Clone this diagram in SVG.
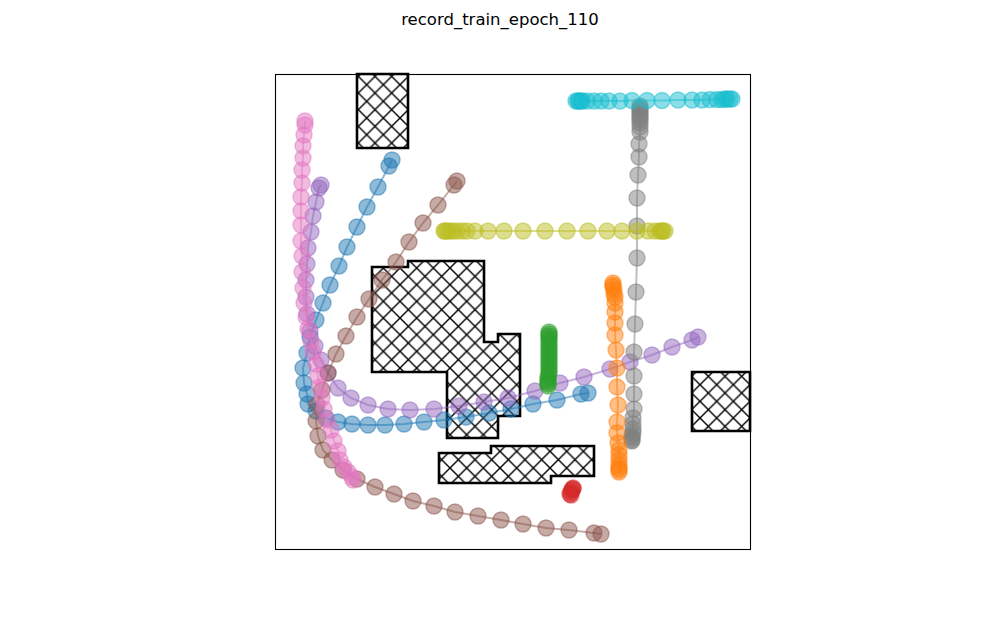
<svg xmlns="http://www.w3.org/2000/svg" xmlns:xlink="http://www.w3.org/1999/xlink" width="1000" height="618" viewBox="0 0 1000 618">
<style>
.ln{fill:none;stroke-width:2;stroke-opacity:0.5;stroke-linejoin:round}
.pt circle{r:8px;fill-opacity:0.5;stroke-opacity:0.5;stroke-width:1.4}
.obs{fill:url(#hatch);stroke:#000;stroke-width:2.6;stroke-linejoin:miter}
.blue{stroke:#1f77b4;fill:#1f77b4}.orange{stroke:#ff7f0e;fill:#ff7f0e}.green{stroke:#2ca02c;fill:#2ca02c}.red{stroke:#d62728;fill:#d62728}.purple{stroke:#9467bd;fill:#9467bd}.brown{stroke:#8c564b;fill:#8c564b}.pink{stroke:#e377c2;fill:#e377c2}.gray{stroke:#7f7f7f;fill:#7f7f7f}.olive{stroke:#bcbd22;fill:#bcbd22}.cyan{stroke:#17becf;fill:#17becf}
.ln.blue,.ln.orange,.ln.green,.ln.red,.ln.purple,.ln.brown,.ln.pink,.ln.gray,.ln.olive,.ln.cyan{fill:none}
</style>
<defs>
<pattern id="hatch" patternUnits="userSpaceOnUse" x="0" y="1.33" width="16.667" height="16.667">
<rect width="16.667" height="16.667" fill="#fff"/>
<path d="M0,0L16.667,16.667M0,16.667L16.667,0" stroke="#000" stroke-width="1.4"/>
</pattern>
</defs>
<rect width="1000" height="618" fill="#fff"/>
<text x="500" y="25" text-anchor="middle" font-family="DejaVu Sans, sans-serif" font-size="16.5">record_train_epoch_110</text>
<g id="obstacles">
<polygon class="obs" points="357,74 408,74 408,148 357,148"/>
<polygon class="obs" points="372,267 408,267 408,261 484,261 484,342 498,342 498,334 520,334 520,416 498,416 498,438 447,438 447,372 372,372"/>
<polygon class="obs" points="439,453 491,453 491,446 594,446 594,476 551,476 551,483 439,483"/>
<polygon class="obs" points="692,372 750,372 750,431 692,431"/>
</g>
<g id="traj-blue">
<polyline class="ln blue" points="392,160 389,166 378,187 367,207 357,227 347,247 339,266 330,285 323,303 316,320 310,337 307,353 303,368 304,383 307,394 308,404 316,411 326,418 338,422 352,424 368,425 385,425 404,424 424,422 444,420 466,417 489,413 511,409 533,404 557,400 581,394 588,393"/>
<g class="pt blue"><circle cx="392" cy="160"/><circle cx="389" cy="166"/><circle cx="378" cy="187"/><circle cx="367" cy="207"/><circle cx="357" cy="227"/><circle cx="347" cy="247"/><circle cx="339" cy="266"/><circle cx="330" cy="285"/><circle cx="323" cy="303"/><circle cx="316" cy="320"/><circle cx="310" cy="337"/><circle cx="307" cy="353"/><circle cx="303" cy="368"/><circle cx="304" cy="383"/><circle cx="307" cy="394"/><circle cx="308" cy="404"/><circle cx="316" cy="411"/><circle cx="326" cy="418"/><circle cx="338" cy="422"/><circle cx="352" cy="424"/><circle cx="368" cy="425"/><circle cx="385" cy="425"/><circle cx="404" cy="424"/><circle cx="424" cy="422"/><circle cx="444" cy="420"/><circle cx="466" cy="417"/><circle cx="489" cy="413"/><circle cx="511" cy="409"/><circle cx="533" cy="404"/><circle cx="557" cy="400"/><circle cx="581" cy="394"/><circle cx="588" cy="393"/></g>
</g>
<g id="traj-purple">
<polyline class="ln purple" points="321,185 319,188 316,202 313,216 311,232 308,248 307,264 306,280 306,297 307,314 310,331 315,346 321,360 328,373 338,388 351,398 368,405 388,409 410,410 434,409 459,406 484,402 508,398 535,391 560,383 584,377 610,369 630,362 652,355 672,347 692,340 698,337"/>
<g class="pt purple"><circle cx="321" cy="185"/><circle cx="319" cy="188"/><circle cx="316" cy="202"/><circle cx="313" cy="216"/><circle cx="311" cy="232"/><circle cx="308" cy="248"/><circle cx="307" cy="264"/><circle cx="306" cy="280"/><circle cx="306" cy="297"/><circle cx="307" cy="314"/><circle cx="310" cy="331"/><circle cx="315" cy="346"/><circle cx="321" cy="360"/><circle cx="328" cy="373"/><circle cx="338" cy="388"/><circle cx="351" cy="398"/><circle cx="368" cy="405"/><circle cx="388" cy="409"/><circle cx="410" cy="410"/><circle cx="434" cy="409"/><circle cx="459" cy="406"/><circle cx="484" cy="402"/><circle cx="508" cy="398"/><circle cx="535" cy="391"/><circle cx="560" cy="383"/><circle cx="584" cy="377"/><circle cx="610" cy="369"/><circle cx="630" cy="362"/><circle cx="652" cy="355"/><circle cx="672" cy="347"/><circle cx="692" cy="340"/><circle cx="698" cy="337"/></g>
</g>
<g id="traj-brown">
<polyline class="ln brown" points="457,181 454,185 438,205 423,223 409,242 396,262 382,280 369,299 357,317 346,336 336,354 328,373 322,390 317,405 316,421 318,436 323,450 332,460 343,470 357,479 375,487 394,494 413,501 434,506 455,512 478,516 501,520 523,524 546,528 569,530 594,533 601,534"/>
<g class="pt brown"><circle cx="457" cy="181"/><circle cx="454" cy="185"/><circle cx="438" cy="205"/><circle cx="423" cy="223"/><circle cx="409" cy="242"/><circle cx="396" cy="262"/><circle cx="382" cy="280"/><circle cx="369" cy="299"/><circle cx="357" cy="317"/><circle cx="346" cy="336"/><circle cx="336" cy="354"/><circle cx="328" cy="373"/><circle cx="322" cy="390"/><circle cx="317" cy="405"/><circle cx="316" cy="421"/><circle cx="318" cy="436"/><circle cx="323" cy="450"/><circle cx="332" cy="460"/><circle cx="343" cy="470"/><circle cx="357" cy="479"/><circle cx="375" cy="487"/><circle cx="394" cy="494"/><circle cx="413" cy="501"/><circle cx="434" cy="506"/><circle cx="455" cy="512"/><circle cx="478" cy="516"/><circle cx="501" cy="520"/><circle cx="523" cy="524"/><circle cx="546" cy="528"/><circle cx="569" cy="530"/><circle cx="594" cy="533"/><circle cx="601" cy="534"/></g>
</g>
<g id="traj-pink">
<polyline class="ln pink" points="305,121 305,125 304,135 303,146 303,158 302,170 302,183 301,197 301,211 301,225 301,241 302,256 302,272 303,288 304,303 306,317 308,329 311,341 313,352 316,364 318,376 320,387 322,398 324,409 327,420 331,430 334,441 338,451 340,460 344,467 348,472 352,477 353,480"/>
<g class="pt pink"><circle cx="305" cy="121"/><circle cx="305" cy="125"/><circle cx="304" cy="135"/><circle cx="303" cy="146"/><circle cx="303" cy="158"/><circle cx="302" cy="170"/><circle cx="302" cy="183"/><circle cx="301" cy="197"/><circle cx="301" cy="211"/><circle cx="301" cy="225"/><circle cx="301" cy="241"/><circle cx="302" cy="256"/><circle cx="302" cy="272"/><circle cx="303" cy="288"/><circle cx="304" cy="303"/><circle cx="306" cy="317"/><circle cx="308" cy="329"/><circle cx="311" cy="341"/><circle cx="313" cy="352"/><circle cx="316" cy="364"/><circle cx="318" cy="376"/><circle cx="320" cy="387"/><circle cx="322" cy="398"/><circle cx="324" cy="409"/><circle cx="327" cy="420"/><circle cx="331" cy="430"/><circle cx="334" cy="441"/><circle cx="338" cy="451"/><circle cx="340" cy="460"/><circle cx="344" cy="467"/><circle cx="348" cy="472"/><circle cx="352" cy="477"/><circle cx="353" cy="480"/></g>
</g>
<g id="traj-gray">
<polyline class="ln gray" points="640,106 640,108 640,110 640,112 640,115 640,117 640,120 640,123 640,127 640,132 639,144 639,157 638,175 637,198 637,226 637,258 636,292 635,324 634,352 634,376 634,394 634,409 633,418 633,424 633,429 633,433 632,436 632,438 632,440 632,441"/>
<g class="pt gray"><circle cx="640" cy="106"/><circle cx="640" cy="108"/><circle cx="640" cy="110"/><circle cx="640" cy="112"/><circle cx="640" cy="115"/><circle cx="640" cy="117"/><circle cx="640" cy="120"/><circle cx="640" cy="123"/><circle cx="640" cy="127"/><circle cx="640" cy="132"/><circle cx="639" cy="144"/><circle cx="639" cy="157"/><circle cx="638" cy="175"/><circle cx="637" cy="198"/><circle cx="637" cy="226"/><circle cx="637" cy="258"/><circle cx="636" cy="292"/><circle cx="635" cy="324"/><circle cx="634" cy="352"/><circle cx="634" cy="376"/><circle cx="634" cy="394"/><circle cx="634" cy="409"/><circle cx="633" cy="418"/><circle cx="633" cy="424"/><circle cx="633" cy="429"/><circle cx="633" cy="433"/><circle cx="632" cy="436"/><circle cx="632" cy="438"/><circle cx="632" cy="440"/><circle cx="632" cy="441"/></g>
</g>
<g id="traj-cyan">
<polyline class="ln cyan" points="576,101 578,101 579,101 581,101 582,101 587,101 594,101 601,101 609,101 620,101 632,100.5 647,100.5 662,100.5 678,100 692,100 702,100 710,99.5 717,99.5 722,99.5 725,99 727,99 730,99 732,99"/>
<g class="pt cyan"><circle cx="576" cy="101"/><circle cx="578" cy="101"/><circle cx="579" cy="101"/><circle cx="581" cy="101"/><circle cx="582" cy="101"/><circle cx="587" cy="101"/><circle cx="594" cy="101"/><circle cx="601" cy="101"/><circle cx="609" cy="101"/><circle cx="620" cy="101"/><circle cx="632" cy="100.5"/><circle cx="647" cy="100.5"/><circle cx="662" cy="100.5"/><circle cx="678" cy="100"/><circle cx="692" cy="100"/><circle cx="702" cy="100"/><circle cx="710" cy="99.5"/><circle cx="717" cy="99.5"/><circle cx="722" cy="99.5"/><circle cx="725" cy="99"/><circle cx="727" cy="99"/><circle cx="730" cy="99"/><circle cx="732" cy="99"/></g>
</g>
<g id="traj-olive">
<polyline class="ln olive" points="444,231 445,231 447,231 450,231 453,231 457,231 462,231 467,231 475,231 488,231 504,231 523,231 545,231 567,231 588,231 607,231 622,231 637,231 648,231 655,231 660,231 662,231 663,231 665,231"/>
<g class="pt olive"><circle cx="444" cy="231"/><circle cx="445" cy="231"/><circle cx="447" cy="231"/><circle cx="450" cy="231"/><circle cx="453" cy="231"/><circle cx="457" cy="231"/><circle cx="462" cy="231"/><circle cx="467" cy="231"/><circle cx="475" cy="231"/><circle cx="488" cy="231"/><circle cx="504" cy="231"/><circle cx="523" cy="231"/><circle cx="545" cy="231"/><circle cx="567" cy="231"/><circle cx="588" cy="231"/><circle cx="607" cy="231"/><circle cx="622" cy="231"/><circle cx="637" cy="231"/><circle cx="648" cy="231"/><circle cx="655" cy="231"/><circle cx="660" cy="231"/><circle cx="662" cy="231"/><circle cx="663" cy="231"/><circle cx="665" cy="231"/></g>
</g>
<g id="traj-orange">
<polyline class="ln orange" points="613,283 613,285 613,287 614,290 614,294 615,297 615,303 615,312 615,323 615,335 616,350 617,368 617,387 618,405 617,422 617,433 618,443 619,450 619,455 619,460 619,465 619,468 619,470 619,472"/>
<g class="pt orange"><circle cx="613" cy="283"/><circle cx="613" cy="285"/><circle cx="613" cy="287"/><circle cx="614" cy="290"/><circle cx="614" cy="294"/><circle cx="615" cy="297"/><circle cx="615" cy="303"/><circle cx="615" cy="312"/><circle cx="615" cy="323"/><circle cx="615" cy="335"/><circle cx="616" cy="350"/><circle cx="617" cy="368"/><circle cx="617" cy="387"/><circle cx="618" cy="405"/><circle cx="617" cy="422"/><circle cx="617" cy="433"/><circle cx="618" cy="443"/><circle cx="619" cy="450"/><circle cx="619" cy="455"/><circle cx="619" cy="460"/><circle cx="619" cy="465"/><circle cx="619" cy="468"/><circle cx="619" cy="470"/><circle cx="619" cy="472"/></g>
</g>
<g id="traj-green">
<polyline class="ln green" points="549,332 549,334 549,336 549,338 549,341 549,344 549,347 549,350 549,353 549,356 549,359 549,362 549,365 549,368 549,371 549,374 548,377 548,380 548,382 548,384 548,386"/>
<g class="pt green"><circle cx="549" cy="332"/><circle cx="549" cy="334"/><circle cx="549" cy="336"/><circle cx="549" cy="338"/><circle cx="549" cy="341"/><circle cx="549" cy="344"/><circle cx="549" cy="347"/><circle cx="549" cy="350"/><circle cx="549" cy="353"/><circle cx="549" cy="356"/><circle cx="549" cy="359"/><circle cx="549" cy="362"/><circle cx="549" cy="365"/><circle cx="549" cy="368"/><circle cx="549" cy="371"/><circle cx="549" cy="374"/><circle cx="548" cy="377"/><circle cx="548" cy="380"/><circle cx="548" cy="382"/><circle cx="548" cy="384"/><circle cx="548" cy="386"/></g>
</g>
<g id="traj-red">
<polyline class="ln red" points="573,488 572,490 571,492 570,494 571,495"/>
<g class="pt red"><circle cx="573" cy="488"/><circle cx="573" cy="489"/><circle cx="572" cy="490"/><circle cx="571" cy="492"/><circle cx="570" cy="494"/><circle cx="571" cy="495"/></g>
</g>
<rect id="axes" x="275.5" y="74.5" width="475" height="475" fill="none" stroke="#000" stroke-width="1.1"/>
</svg>
